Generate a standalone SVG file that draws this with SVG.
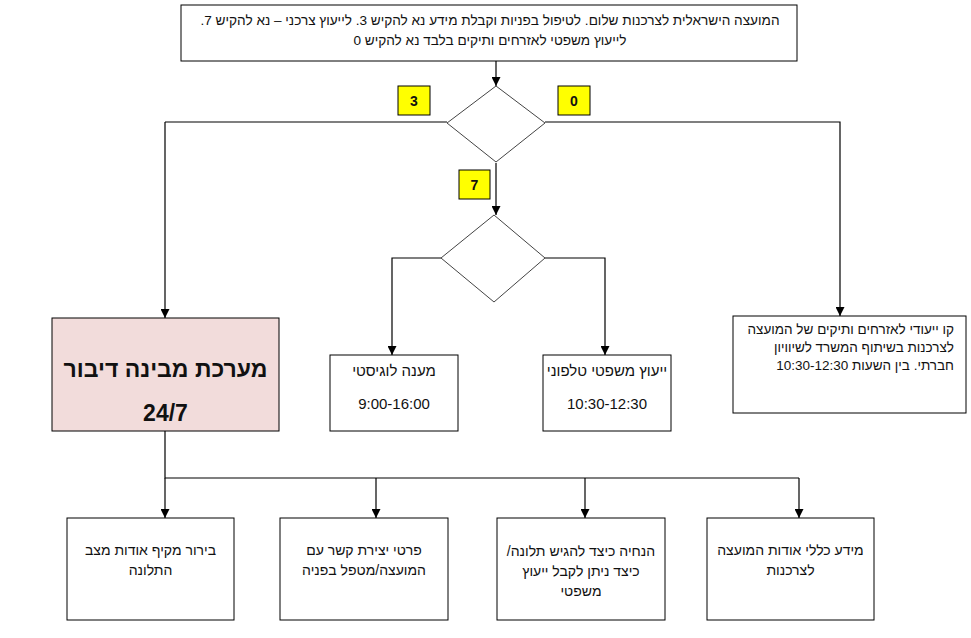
<svg xmlns="http://www.w3.org/2000/svg" width="971" height="638" viewBox="0 0 971 638">
<defs>
<marker id="arr" viewBox="0 0 10 10" refX="10" refY="5" markerWidth="9" markerHeight="9" markerUnits="userSpaceOnUse" orient="auto">
<path d="M0,0 L10,5 L0,10 z" fill="#000"/>
</marker>
<style>
.box{fill:#fff;stroke:#000;stroke-width:1}
.pink{fill:#f2dcdb;stroke:#000;stroke-width:1}
.yel{fill:#ffff00;stroke:#000;stroke-width:1}
.dia{fill:#fff;stroke:#444;stroke-width:1}
.ln{fill:none;stroke:#000;stroke-width:1.2}
.la{fill:none;stroke:#000;stroke-width:1.2;marker-end:url(#arr)}
text{font-family:"Liberation Sans",Arial,sans-serif;fill:#111}
.t13{font-size:13.6px}
.t135{font-size:13.5px}
.t14{font-size:14px}
.t15{font-size:15px}
.big{font-size:23px;font-weight:bold}
.num{font-size:14px;font-weight:bold}
</style>
</defs>
<rect width="971" height="638" fill="#fff"/>

<g id="connectors">
<path class="la" d="M496,61 V86"/>
<path class="la" d="M165,122 H447 M165,122 V318"/>
<path class="la" d="M545,122 H840 V316"/>
<path class="la" d="M496,163 V215"/>
<path class="la" d="M441,258 H392 V355"/>
<path class="la" d="M545,258 H605 V355"/>
<path class="ln" d="M165,431 V478 H799"/>
<path class="la" d="M165,478 V518"/>
<path class="la" d="M376,478 V518"/>
<path class="la" d="M585,478 V518"/>
<path class="la" d="M799,478 V518"/>
</g>

<g id="top">
<rect class="box" x="181" y="5" width="616" height="56"/>
<text class="t13" x="490" y="25" text-anchor="middle" direction="rtl">המועצה הישראלית לצרכנות שלום. לטיפול בפניות וקבלת מידע נא להקיש 3. לייעוץ צרכני – נא להקיש 7.</text>
<text class="t13" x="490" y="45" text-anchor="middle" direction="rtl">לייעוץ משפטי לאזרחים ותיקים בלבד נא להקיש 0</text>
</g>

<g id="decision1">
<polygon class="dia" points="496,86 545,123 496,162 447,123"/>
</g>

<g id="label3">
<rect class="yel" x="398" y="86" width="32" height="29"/>
<text class="num" x="414" y="106" text-anchor="middle">3</text>
</g>
<g id="label0">
<rect class="yel" x="558" y="86" width="32" height="29"/>
<text class="num" x="574" y="106" text-anchor="middle">0</text>
</g>
<g id="label7">
<rect class="yel" x="459" y="170" width="31" height="29"/>
<text class="num" x="474.5" y="190" text-anchor="middle">7</text>
</g>

<g id="decision2">
<polygon class="dia" points="494,215 545,258 494,302 441,258"/>
</g>

<g id="speech">
<rect class="pink" x="52" y="318" width="227" height="113"/>
<text class="big" x="165.5" y="377" text-anchor="middle" direction="rtl">מערכת מבינה דיבור</text>
<text class="big" x="165.5" y="421" text-anchor="middle">24/7</text>
</g>

<g id="logistics">
<rect class="box" x="330" y="355" width="128" height="76"/>
<text class="t15" x="394" y="376" text-anchor="middle" direction="rtl">מענה לוגיסטי</text>
<text class="t15" x="394" y="409" text-anchor="middle">9:00-16:00</text>
</g>

<g id="phone">
<rect class="box" x="543" y="355" width="128" height="76"/>
<text class="t15" x="607" y="376" text-anchor="middle" direction="rtl">ייעוץ משפטי טלפוני</text>
<text class="t15" x="607" y="409" text-anchor="middle">10:30-12:30</text>
</g>

<g id="seniors">
<rect class="box" x="733" y="316" width="233" height="97"/>
<text class="t135" x="954" y="334" text-anchor="start" direction="rtl">קו ייעודי לאזרחים ותיקים של המועצה</text>
<text class="t135" x="954" y="352" text-anchor="start" direction="rtl">לצרכנות בשיתוף המשרד לשיוויון</text>
<text class="t135" x="954" y="370" text-anchor="start" direction="rtl">חברתי. בין השעות 10:30-12:30</text>
</g>

<g id="b1">
<rect class="box" x="67" y="518" width="167" height="102"/>
<text class="t14" x="150.5" y="555" text-anchor="middle" direction="rtl">בירור מקיף אודות מצב</text>
<text class="t14" x="150.5" y="575" text-anchor="middle" direction="rtl">התלונה</text>
</g>

<g id="b2">
<rect class="box" x="280" y="518" width="168" height="102"/>
<text class="t14" x="364" y="555" text-anchor="middle" direction="rtl">פרטי יצירת קשר עם</text>
<text class="t14" x="364" y="575" text-anchor="middle" direction="rtl">המועצה/מטפל בפניה</text>
</g>

<g id="b3">
<rect class="box" x="497" y="518" width="168" height="102"/>
<text class="t14" x="581" y="556" text-anchor="middle" direction="rtl">הנחיה כיצד להגיש תלונה/</text>
<text class="t14" x="581" y="576" text-anchor="middle" direction="rtl">כיצד ניתן לקבל ייעוץ</text>
<text class="t14" x="581" y="596" text-anchor="middle" direction="rtl">משפטי</text>
</g>

<g id="b4">
<rect class="box" x="707" y="518" width="167" height="102"/>
<text class="t14" x="790.5" y="555" text-anchor="middle" direction="rtl">מידע כללי אודות המועצה</text>
<text class="t14" x="790.5" y="575" text-anchor="middle" direction="rtl">לצרכנות</text>
</g>
</svg>
